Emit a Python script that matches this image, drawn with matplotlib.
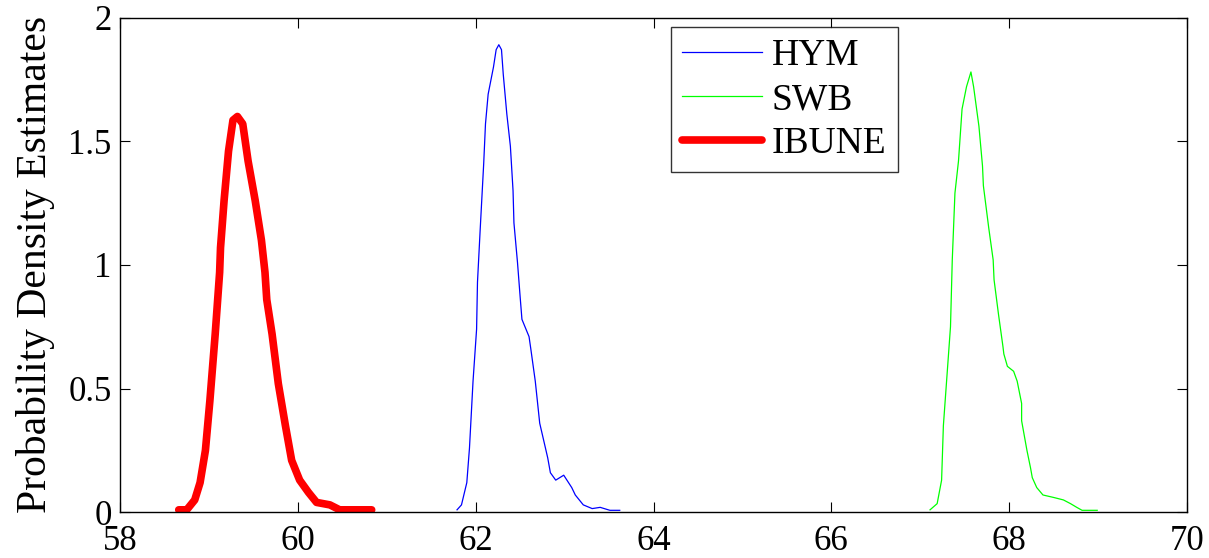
import matplotlib
matplotlib.use("Agg")
import matplotlib.pyplot as plt

plt.rcParams["font.family"] = ["Liberation Serif", "DejaVu Serif"]

# values
hym_x = [61.79, 61.84, 61.90, 61.93, 61.97, 62.01, 62.02, 62.05, 62.09, 62.11, 62.14,
         62.20, 62.23, 62.26, 62.29, 62.31, 62.35, 62.39, 62.42, 62.43, 62.47, 62.50,
         62.52, 62.60, 62.62, 62.67, 62.72, 62.81, 62.84, 62.90, 62.99, 63.08, 63.12,
         63.21, 63.31, 63.40, 63.51, 63.62]
hym_y = [0.01, 0.03, 0.12, 0.26, 0.53, 0.74, 0.93, 1.14, 1.41, 1.57, 1.69,
         1.80, 1.87, 1.89, 1.87, 1.77, 1.61, 1.48, 1.30, 1.17, 1.01, 0.87,
         0.78, 0.71, 0.66, 0.53, 0.36, 0.22, 0.16, 0.13, 0.15, 0.10, 0.07,
         0.03, 0.015, 0.02, 0.008, 0.008]

swb_x = [67.11, 67.19, 67.24, 67.26, 67.30, 67.34, 67.36, 67.39, 67.43, 67.47, 67.52,
         67.57, 67.60, 67.66, 67.70, 67.71, 67.77, 67.82, 67.83, 67.88, 67.93, 67.94,
         67.98, 68.05, 68.09, 68.14, 68.14, 68.20, 68.24, 68.26, 68.31, 68.38, 68.50,
         68.61, 68.69, 68.76, 68.82, 68.99]
swb_y = [0.01, 0.035, 0.13, 0.35, 0.55, 0.75, 1.02, 1.29, 1.42, 1.63, 1.72,
         1.78, 1.72, 1.56, 1.40, 1.32, 1.15, 1.02, 0.94, 0.80, 0.67, 0.64,
         0.59, 0.57, 0.53, 0.44, 0.37, 0.25, 0.18, 0.14, 0.10, 0.07, 0.06,
         0.05, 0.035, 0.02, 0.008, 0.008]

ibune_x = [58.66, 58.75, 58.84, 58.90, 58.96, 59.01, 59.07, 59.12, 59.13, 59.17, 59.22,
           59.27, 59.32, 59.38, 59.44, 59.52, 59.59, 59.63, 59.65, 59.71, 59.78, 59.86,
           59.93, 60.02, 60.12, 60.21, 60.36, 60.47, 60.83]
ibune_y = [0.01, 0.01, 0.05, 0.12, 0.25, 0.45, 0.72, 0.97, 1.07, 1.26, 1.46,
           1.585, 1.60, 1.57, 1.42, 1.26, 1.10, 0.97, 0.86, 0.72, 0.52, 0.35,
           0.21, 0.13, 0.08, 0.04, 0.03, 0.01, 0.01]

x_ticks = [58, 60, 62, 64, 66, 68, 70]
y_ticks = [0, 0.5, 1, 1.5, 2]
y_tick_labels = ["0", "0.5", "1", "1.5", "2"]

fig = plt.figure(figsize=(12.09, 5.58), dpi=100)
ax = fig.add_axes([0.0993, 0.0819, 0.8825, 0.8867])

ax.plot(hym_x, hym_y, color="#0000ff", linewidth=0.9, label="HYM")
ax.plot(swb_x, swb_y, color="#00ff00", linewidth=0.9, label="SWB")
ax.plot(ibune_x, ibune_y, color="#ff0000", linewidth=5.5, solid_capstyle="round",
        solid_joinstyle="round", label="IBUNE")

ax.set_xlim(58, 70)
ax.set_ylim(0, 2)
ax.set_xticks(x_ticks)
ax.set_yticks(y_ticks)
ax.set_yticklabels(y_tick_labels)
ax.tick_params(direction="in", length=7, width=0.8, top=True, right=True,
               labelsize=25)
ax.tick_params(axis="x", pad=9)
ax.tick_params(axis="y", pad=6)
for spine in ax.spines.values():
    spine.set_linewidth(1.0)
ax.set_ylabel("Probability Density Estimates", fontsize=30, labelpad=10)

leg = ax.legend(loc="upper left", bbox_to_anchor=(0.516, 0.98), borderaxespad=0,
                fontsize=27, frameon=True, fancybox=False, handlelength=2.15,
                labelspacing=0.25, handletextpad=0.25, borderpad=0.3)
leg.get_frame().set_edgecolor("black")
leg.get_frame().set_linewidth(1.0)

fig.savefig("out.png", dpi=100)
plt.close(fig)
